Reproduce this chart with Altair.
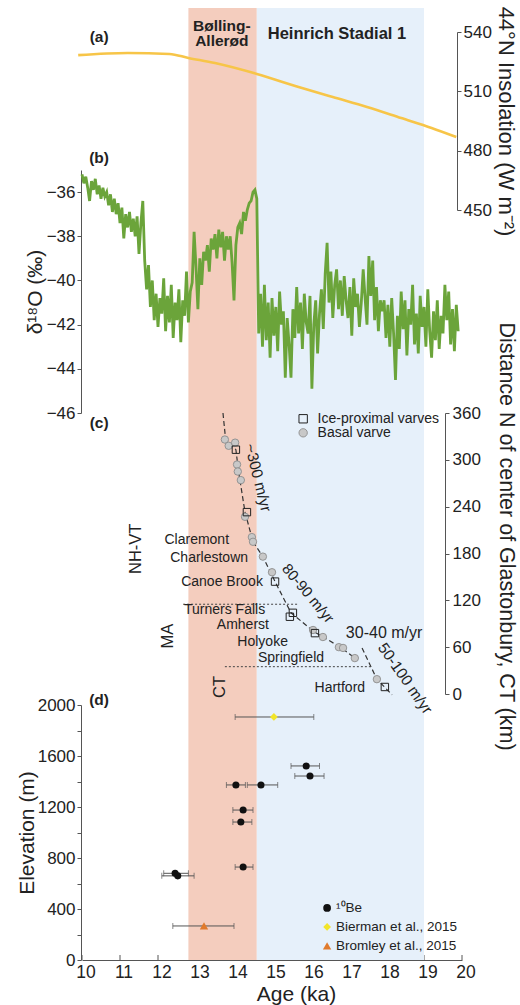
import altair as alt
import pandas as pd
import numpy as np

# ---------------- data ----------------
# shaded climate intervals (ka)
BAND_START = [12.8, 14.6]
BAND_END = [14.6, 19.0]
BAND_COLOR = ["#F4CDBE", "#E6F0FA"]

# (a) 44N insolation (W m-2)
INS_AGE = [9.9, 11.2, 12.3, 12.8, 13.5, 14.6, 15.7, 16.6, 17.5, 18.4, 19.2, 19.85]
INS_VAL = [528.3, 529.4, 528.9, 526.9, 524.3, 518.8, 512.2, 507.1, 502.1, 496.5, 491.5, 486.9]

# (b) d18O (permil), sampled every 0.05 ka from 10.00 ka
D18O_START = 10.0
D18O_STEP = 0.05
D18O_VAL = [
    -35.2, -35.6, -35.3, -35.8, -36.4, -35.5, -35.9, -35.4, -36.1, -35.7,
    -36.3, -35.8, -36.2, -36.0, -36.6, -36.1, -36.9, -36.3, -37.0, -36.5,
    -37.4, -36.7, -38.1, -37.0, -37.6, -36.9, -37.8, -37.2, -38.0, -37.1,
    -38.8, -37.4, -36.4, -39.1, -40.4, -39.3, -41.2, -40.0, -41.8, -40.6,
    -42.1, -40.8, -41.5, -39.9, -42.3, -40.7, -41.9, -40.2, -42.6, -41.0,
    -41.8, -40.4, -42.8, -40.9, -41.6, -39.6, -41.9, -40.5, -40.1, -37.8,
    -39.4, -41.3, -39.0, -40.2, -38.7, -39.1, -38.4, -39.6, -38.1, -38.6,
    -37.9, -39.0, -37.7, -38.5, -37.8, -39.1, -38.0, -38.6, -38.0, -39.2,
    -40.9, -38.4, -37.6, -37.4, -37.9, -36.9, -37.3, -36.8, -36.5, -36.4,
    -36.0, -35.9, -36.3, -42.4, -40.6, -43.0, -40.2, -42.7, -41.0, -43.5,
    -40.8, -42.5, -41.2, -43.2, -40.5, -42.0, -41.4, -44.4, -41.7, -42.9,
    -44.4, -41.3, -42.6, -40.3, -42.4, -41.0, -43.1, -40.6, -41.9, -42.4,
    -40.7, -44.9, -42.0, -40.9, -43.3, -41.5, -40.4, -42.2, -39.7, -38.3,
    -41.0, -39.6, -41.7, -40.2, -39.5, -41.3, -40.0, -41.6, -39.8, -40.9,
    -41.7, -40.3, -42.5, -39.9, -41.2, -40.6, -42.1, -41.0, -39.5, -40.8,
    -42.0, -38.9, -40.7, -39.1, -41.8, -40.3, -42.3, -40.9, -41.4, -40.9,
    -42.6, -41.1, -43.0, -40.8, -42.4, -44.5, -41.6, -43.1, -40.5, -42.2,
    -40.9, -43.4, -41.3, -42.0, -40.2, -42.9, -41.5, -43.3, -40.7, -42.1,
    -41.2, -43.0, -40.4, -42.3, -43.5, -41.4, -42.7, -40.9, -43.1, -41.6,
    -42.4, -40.2, -41.8, -40.5, -42.9, -41.3, -43.2, -41.1, -42.3,
]

# (c) varve records: age (ka) vs distance (km)
BASAL_AGE = [13.76, 13.86, 14.03, 14.08, 14.10, 14.18, 14.29, 14.47, 14.50, 14.76, 15.00,
             16.08, 16.34, 16.76, 16.87, 17.18, 17.76]
BASAL_DIST = [326, 318, 322, 294, 285, 274, 227, 201, 195, 176, 156, 82, 73, 60, 59, 46, 19]
PROX_AGE = [14.05, 14.34, 15.08, 15.55, 15.47, 16.13, 17.97]
PROX_DIST = [313, 233, 144, 104, 99, 78, 9]
TREND_SEG = [1, 1, 1, 1, 1, 1, 2, 2, 2, 2, 2, 2, 2, 3, 3, 3]
TREND_AGE = [13.71, 13.78, 14.05, 14.12, 14.29, 14.50,
             14.50, 14.76, 15.08, 15.50, 16.10, 16.80, 17.18,
             17.37, 17.76, 18.16]
TREND_DIST = [360, 326, 313, 285, 233, 195,
              195, 176, 144, 104, 80, 60, 46,
              59, 19, -1]
BOUND_FROM = [12.66, 13.76]
BOUND_TO = [15.66, 17.63]
BOUND_DIST = [115, 35]
PLACE_NAME = ["Claremont", "Charlestown", "Canoe Brook", "Turners Falls", "Amherst",
              "Holyoke", "Springfield", "Hartford"]
PLACE_AGE = [13.87, 14.37, 14.76, 14.82, 14.92, 15.42, 16.37, 17.45]
PLACE_DIST = [197, 174, 144, 108, 89, 67, 46, 8]
RATE_TEXT = ["~300 m/yr", "80-90 m/yr", "30-40 m/yr", "50-100 m/yr"]
RATE_AGE = [14.63, 15.95, 17.95, 18.50]
RATE_DIST = [277, 129, 78, 20]
RATE_ANGLE = [76, 50, 0, 55]
RATE_SIZE = [15.5, 15, 16, 15.5]
STATE_TEXT = ["NH-VT", "MA", "CT"]
STATE_AGE = [11.42, 12.26, 13.63]
STATE_DIST = [186, 74, 9]

# (d) exposure ages: age (ka), elevation (m), age error range
BE_AGE = [14.24, 14.18, 14.24, 12.45, 12.52, 14.05, 14.71, 15.90, 16.00]
BE_ELEV = [1176, 1082, 729, 680, 660, 1373, 1373, 1522, 1443]
BE_LO = [13.97, 13.97, 14.03, 12.15, 12.10, 13.80, 14.35, 15.50, 15.60]
BE_HI = [14.50, 14.47, 14.50, 12.80, 12.95, 14.30, 15.15, 16.25, 16.37]
BIER_AGE, BIER_ELEV, BIER_LO, BIER_HI = [15.05], [1906], [14.03], [16.10]
BROM_AGE, BROM_ELEV, BROM_LO, BROM_HI = [13.21], [267], [12.39], [14.00]

X_TICKS = list(range(10, 21))

# ---------------- helpers ----------------
FONT = "Liberation Sans"
TXT = "#222222"
NBSP = "\u00a0"
xs = alt.Scale(domain=[10, 20], nice=False, zero=False)


def X(field="age", axis=alt.Undefined):
    return alt.X(f"{field}:Q", scale=xs, axis=axis)


# ---------------- shading ----------------
bands = pd.DataFrame({"s": BAND_START, "e": BAND_END, "c": BAND_COLOR})
bg = alt.Chart(bands).mark_rect().encode(
    x=X("s"), x2="e", y=alt.value(8), y2=alt.value(960),
    color=alt.Color("c:N", scale=None),
)

# ---------------- panel a ----------------
ins_scale = alt.Scale(domain=[450, 540], range=[210, 32], nice=False, zero=False)
ins_df = pd.DataFrame({"age": INS_AGE, "v": INS_VAL})
a_line = alt.Chart(ins_df).mark_line(color="#F7C548", strokeWidth=2.6, interpolate="monotone").encode(
    x=X(),
    y=alt.Y("v:Q", scale=ins_scale, axis=alt.Axis(
        orient="right", offset=-5, values=[450, 480, 510, 540], format="d",
        title="44°N Insolation (W m⁻²)", titleFontSize=22, labelFontSize=17,
        tickSize=4, labelPadding=2, titlePadding=2)),
)
a_bold = pd.DataFrame({
    "t": ["(a)", "Bølling-", "Allerød", "Heinrich Stadial 1"],
    "age": [10.45, 13.68, 13.68, 16.71],
    "v": [537.5, 543.0, 535.2, 539.0],
    "fs": [15.5, 15.5, 15.5, 16.5],
})
a_txt = alt.Chart(a_bold).mark_text(font=FONT, fontWeight="bold", color=TXT, baseline="middle").encode(
    x=X(), y=alt.Y("v:Q", scale=ins_scale), text="t:N",
    size=alt.Size("fs:Q", scale=None),
)
panel_a = alt.layer(a_line, a_txt)

# ---------------- panel b ----------------
d18_scale = alt.Scale(domain=[-46, -35], range=[413, 170], nice=False, zero=False)
d18_age = np.round(D18O_START + D18O_STEP * np.arange(len(D18O_VAL)), 2)
d18_df = pd.DataFrame({"age": d18_age, "v": D18O_VAL})
b_line = alt.Chart(d18_df).mark_line(color="#6BA43A", strokeWidth=2.8).encode(
    x=X(),
    y=alt.Y("v:Q", scale=d18_scale, axis=alt.Axis(
        orient="left", offset=1, values=[-36, -38, -40, -42, -44, -46], format="d",
        title="δ¹⁸O (‰)", titleFontSize=21, labelFontSize=17,
        tickSize=4, labelPadding=2, titlePadding=1)),
)
b_txt = alt.Chart(pd.DataFrame({"t": ["(b)"], "age": [10.45], "v": [-34.45]})).mark_text(
    font=FONT, fontWeight="bold", fontSize=15.5, color=TXT, baseline="middle").encode(
    x=X(), y=alt.Y("v:Q", scale=d18_scale), text="t:N")
panel_b = alt.layer(b_line, b_txt)

# ---------------- panel c ----------------
c_scale = alt.Scale(domain=[0, 360], range=[694, 413], nice=False, zero=False)


def YC(axis=alt.Undefined):
    return alt.Y("d:Q", scale=c_scale, axis=axis)


trend = pd.DataFrame({"seg": TREND_SEG, "age": TREND_AGE, "d": TREND_DIST})
c_trend = alt.Chart(trend).mark_line(color="#333333", strokeWidth=1.2, strokeDash=[5, 3]).encode(
    x=X(),
    y=YC(alt.Axis(orient="right", offset=-17, values=list(range(0, 361, 60)), format="d",
                  title="Distance N of center of Glastonbury, CT (km)", titleFontSize=21.5,
                  labelFontSize=17, tickSize=4, labelPadding=3,
                  titleX=60, titleY=536, titleBaseline="middle")),
    detail="seg:N",
)
bounds = pd.DataFrame({"a": BOUND_FROM, "b": BOUND_TO, "d": BOUND_DIST})
c_bounds = alt.Chart(bounds).mark_rule(color="#444444", strokeWidth=1, strokeDash=[2, 2]).encode(
    x=X("a"), x2="b", y=YC())
basal = pd.DataFrame({"age": BASAL_AGE, "d": BASAL_DIST})
c_basal = alt.Chart(basal).mark_point(shape="circle", filled=True, fill="#C8C8C8", stroke="#8C8C8C",
                                      strokeWidth=0.9, size=55, opacity=1).encode(x=X(), y=YC())
prox = pd.DataFrame({"age": PROX_AGE, "d": PROX_DIST})
c_prox = alt.Chart(prox).mark_point(shape="square", filled=False, stroke="#222222",
                                    strokeWidth=1, size=55, opacity=1).encode(x=X(), y=YC())
places = pd.DataFrame({"t": PLACE_NAME, "age": PLACE_AGE, "d": PLACE_DIST})
c_places = alt.Chart(places).mark_text(font=FONT, fontSize=14, color=TXT, align="right",
                                       baseline="middle").encode(x=X(), y=YC(), text="t:N")
rates = pd.DataFrame({"t": RATE_TEXT, "age": RATE_AGE, "d": RATE_DIST, "ang": RATE_ANGLE,
                      "fs": RATE_SIZE})
c_rates = alt.Chart(rates).mark_text(font=FONT, color=TXT, align="center",
                                     baseline="middle").encode(
    x=X(), y=YC(), text="t:N", angle=alt.Angle("ang:Q", scale=None),
    size=alt.Size("fs:Q", scale=None))
states = pd.DataFrame({"t": STATE_TEXT, "age": STATE_AGE, "d": STATE_DIST})
c_states = alt.Chart(states).mark_text(font=FONT, fontSize=16.5, color=TXT, align="center",
                                       baseline="middle", angle=270).encode(x=X(), y=YC(), text="t:N")
c_label = alt.Chart(pd.DataFrame({"t": ["(c)"], "age": [10.45], "d": [347]})).mark_text(
    font=FONT, fontWeight="bold", fontSize=15.5, color=TXT, baseline="middle").encode(
    x=X(), y=YC(), text="t:N")
c_leg_sq = alt.Chart(pd.DataFrame({"age": [15.82], "d": [352.6]})).mark_point(
    shape="square", filled=False, stroke="#222222", strokeWidth=1, size=70, opacity=1).encode(x=X(), y=YC())
c_leg_ci = alt.Chart(pd.DataFrame({"age": [15.82], "d": [334.6]})).mark_point(
    shape="circle", filled=True, fill="#C8C8C8", stroke="#8C8C8C", strokeWidth=0.9, size=70,
    opacity=1).encode(x=X(), y=YC())
c_leg_t = alt.Chart(pd.DataFrame({"t": ["Ice-proximal varves", "Basal varve"], "age": [16.2, 16.2],
                                  "d": [352.6, 334.6]})).mark_text(
    font=FONT, fontSize=14, color=TXT, align="left", baseline="middle").encode(x=X(), y=YC(), text="t:N")
panel_c = alt.layer(c_trend, c_bounds, c_basal, c_prox, c_places, c_rates, c_states, c_label,
                    c_leg_sq, c_leg_ci, c_leg_t)

# ---------------- panel d ----------------
d_scale = alt.Scale(domain=[0, 2000], range=[960, 705], nice=False, zero=False)


def YD(axis=alt.Undefined):
    return alt.Y("e:Q", scale=d_scale, axis=axis)


pts = pd.DataFrame({
    "age": BE_AGE + BIER_AGE + BROM_AGE,
    "e": BE_ELEV + BIER_ELEV + BROM_ELEV,
    "lo": BE_LO + BIER_LO + BROM_LO,
    "hi": BE_HI + BIER_HI + BROM_HI,
    "shape": ["circle"] * len(BE_AGE) + ["diamond"] + ["triangle-up"],
    "col": ["#111111"] * len(BE_AGE) + ["#F2E52A"] + ["#E07A2C"],
    "sz": [50] * len(BE_AGE) + [60] + [70],
})
caps = pd.concat([pts[["lo", "e"]].rename(columns={"lo": "xc"}),
                  pts[["hi", "e"]].rename(columns={"hi": "xc"})])
d_err = alt.Chart(pts).mark_rule(color="#555555", strokeWidth=1).encode(
    x=X("lo"), x2="hi",
    y=YD(alt.Axis(orient="left", offset=1, values=list(range(0, 2001, 200)), format="d",
                  labelExpr=f"datum.value === 0 ? '0{NBSP}{NBSP}' : (datum.value % 400 === 0 ? datum.label : '')",
                  title="Elevation (m)", titleFontSize=21, labelFontSize=17,
                  tickSize=4, labelPadding=2, titlePadding=0)),
)
d_caps = alt.Chart(caps).mark_tick(color="#555555", thickness=1, size=6, orient="vertical").encode(
    x=X("xc"), y=YD())
d_pts = alt.Chart(pts).mark_point(filled=True, opacity=1).encode(
    x=X(), y=YD(), shape=alt.Shape("shape:N", scale=None),
    color=alt.Color("col:N", scale=None), size=alt.Size("sz:Q", scale=None))
leg = pd.DataFrame({
    "age": [16.45, 16.45, 16.45], "e": [408, 259, 110],
    "shape": ["circle", "diamond", "triangle-up"],
    "col": ["#111111", "#F2E52A", "#E07A2C"], "sz": [60, 60, 70],
    "t": ["¹⁰Be", "Bierman et al., 2015", "Bromley et al., 2015"],
})
d_leg = alt.Chart(leg).mark_point(filled=True, opacity=1).encode(
    x=X(), y=YD(), shape=alt.Shape("shape:N", scale=None),
    color=alt.Color("col:N", scale=None), size=alt.Size("sz:Q", scale=None))
d_leg_t = alt.Chart(leg).mark_text(font=FONT, fontSize=13.5, color=TXT, align="left",
                                   baseline="middle", dx=9).encode(x=X(), y=YD(), text="t:N")
d_label = alt.Chart(pd.DataFrame({"t": ["(d)"], "age": [10.45], "e": [2039]})).mark_text(
    font=FONT, fontWeight="bold", fontSize=15.5, color=TXT, baseline="middle").encode(
    x=X(), y=YD(), text="t:N")
panel_d = alt.layer(d_err, d_caps, d_pts, d_leg, d_leg_t, d_label)

# ---------------- shared age axis ----------------
xt = pd.DataFrame({"age": X_TICKS, "lab": [str(v) for v in X_TICKS]})
x_axis = alt.Chart(xt).mark_rule(color="#555555", strokeWidth=1).encode(
    x=X(axis=alt.Axis(orient="bottom", values=X_TICKS, labels=False, ticks=False,
                      title="Age (ka)", titleFontSize=21,
                      titleX=214, titleY=34.5, titleBaseline="middle")),
    y=alt.value(955), y2=alt.value(960),
)
x_labels = alt.Chart(xt).mark_text(font=FONT, fontSize=17.5, color=TXT, align="center",
                                   baseline="top", dx=4).encode(
    x=X(), y=alt.value(964), text="lab:N")

chart = alt.layer(x_axis, x_labels, bg, panel_a, panel_b, panel_c, panel_d).resolve_scale(
    y="independent").resolve_axis(y="independent").properties(
    width=380, height=960,
    autosize=alt.AutoSizeParams(type="none"),
    padding={"left": 82, "top": 0, "right": 58, "bottom": 45},
    background="white",
).configure_axis(
    grid=False, domainColor="#555555", tickColor="#555555", labelColor=TXT, titleColor=TXT,
    labelFont=FONT, titleFont=FONT, titleFontWeight="normal", domainWidth=1, tickWidth=1,
).configure_view(stroke=None)

chart.save("out.html", embed_options={"renderer": "svg", "actions": False})
